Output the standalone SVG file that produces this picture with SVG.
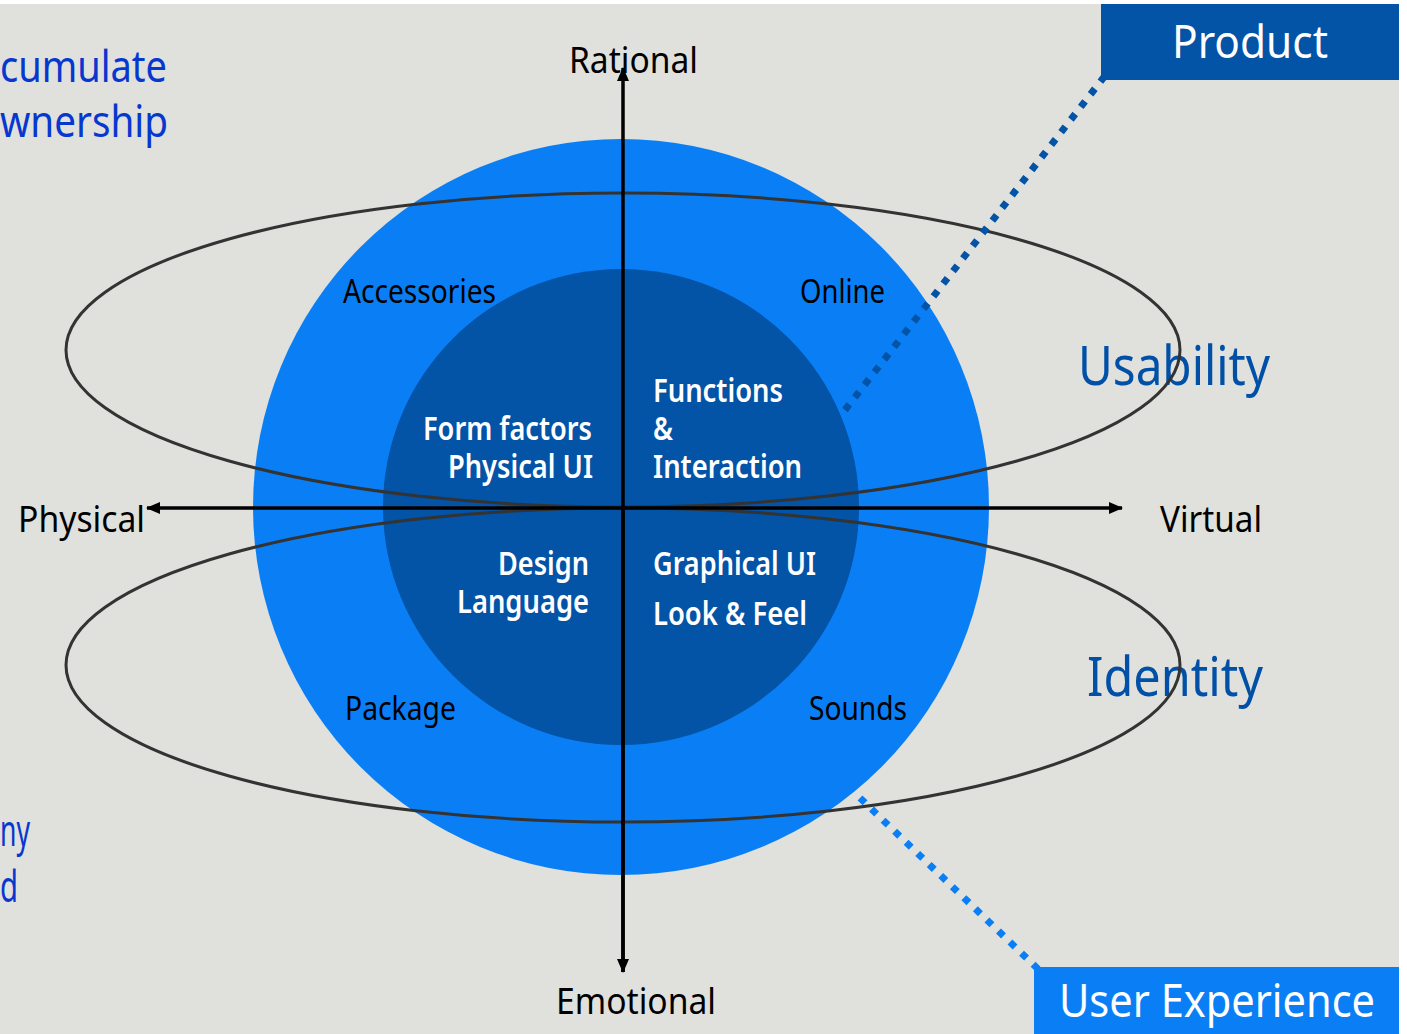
<svg xmlns="http://www.w3.org/2000/svg" width="1407" height="1034" viewBox="0 0 1407 1034">
<style>
text{font-family:"Noto Sans","Open Sans","Liberation Sans",sans-serif;}
.ax{font-size:37px;fill:#000;}
.side{font-size:44px;fill:#0637cf;}
.ring{font-size:32px;fill:#000;}
.core{font-size:32px;fill:#fff;font-weight:600;}
.big{font-size:55px;fill:#0050a8;}
.box{font-size:46px;fill:#fff;}
.ell{fill:none;stroke:#333;stroke-width:3;}
.axis{stroke:#000;stroke-width:3.5;fill:none;}
.dot{fill:none;stroke-width:7;stroke-dasharray:7 9;}
</style>
<defs>
<marker id="ah" viewBox="0 0 14 12" refX="13" refY="6" markerWidth="14" markerHeight="12" markerUnits="userSpaceOnUse" orient="auto">
<path d="M0,0 L14,6 L0,12 z" fill="#000"/>
</marker>
</defs>
<rect x="0" y="0" width="1407" height="1034" fill="#fff"/>
<rect x="0" y="4" width="1399" height="1030" fill="#e0e0dc"/>

<g id="side-text">
<text class="side" x="0" y="82" textLength="167" lengthAdjust="spacingAndGlyphs">cumulate</text>
<text class="side" x="0" y="137" textLength="168" lengthAdjust="spacingAndGlyphs">wnership</text>
<text class="side" x="0" y="846" textLength="30" lengthAdjust="spacingAndGlyphs">ny</text>
<text class="side" x="0" y="902" textLength="18" lengthAdjust="spacingAndGlyphs">d</text>
</g>

<g id="outer-circle"><circle cx="621" cy="507" r="368" fill="#0a7ff5"/></g>
<g id="inner-circle"><circle cx="621" cy="507" r="238" fill="#0353a6"/></g>

<g id="ring-labels">
<text class="ring" x="343" y="303" textLength="153" lengthAdjust="spacingAndGlyphs">Accessories</text>
<text class="ring" x="800" y="303" textLength="85" lengthAdjust="spacingAndGlyphs">Online</text>
<text class="ring" x="345" y="720" textLength="111" lengthAdjust="spacingAndGlyphs">Package</text>
<text class="ring" x="809" y="720" textLength="98" lengthAdjust="spacingAndGlyphs">Sounds</text>
</g>

<g id="core-labels">
<text class="core" x="423" y="440" textLength="169" lengthAdjust="spacingAndGlyphs">Form factors</text>
<text class="core" x="448" y="478" textLength="145" lengthAdjust="spacingAndGlyphs">Physical UI</text>
<text class="core" x="653" y="402" textLength="130" lengthAdjust="spacingAndGlyphs">Functions</text>
<text class="core" x="653" y="440" textLength="20" lengthAdjust="spacingAndGlyphs">&amp;</text>
<text class="core" x="653" y="478" textLength="149" lengthAdjust="spacingAndGlyphs">Interaction</text>
<text class="core" x="498" y="575" textLength="91" lengthAdjust="spacingAndGlyphs">Design</text>
<text class="core" x="457" y="613" textLength="132" lengthAdjust="spacingAndGlyphs">Language</text>
<text class="core" x="653" y="575" textLength="163" lengthAdjust="spacingAndGlyphs">Graphical UI</text>
<text class="core" x="653" y="625" textLength="154" lengthAdjust="spacingAndGlyphs">Look &amp; Feel</text>
</g>

<g id="usability"><text class="big" x="1078" y="385" textLength="192" lengthAdjust="spacingAndGlyphs">Usability</text></g>
<g id="identity"><text class="big" x="1087" y="696" textLength="176" lengthAdjust="spacingAndGlyphs">Identity</text></g>

<g id="product">
<rect x="1101" y="4" width="298" height="76" fill="#0353a6"/>
<text class="box" x="1172" y="58" textLength="156" lengthAdjust="spacingAndGlyphs">Product</text>
</g>
<g id="user-experience">
<rect x="1034" y="967" width="365" height="67" fill="#0a7ff5"/>
<text class="box" x="1059" y="1017" textLength="316" lengthAdjust="spacingAndGlyphs">User Experience</text>
</g>

<g id="connectors">
<ellipse class="ell" cx="623" cy="350" rx="557" ry="157"/>
<ellipse class="ell" cx="623" cy="665" rx="557" ry="157"/>
<line class="dot" x1="845" y1="410" x2="1104" y2="77" stroke="#0353a6"/>
<line class="dot" x1="860" y1="798" x2="1038" y2="969" stroke="#0a7ff5"/>
<line class="axis" x1="623" y1="972" x2="623" y2="68" marker-end="url(#ah)"/>
<line class="axis" x1="623" y1="507" x2="623" y2="972" marker-end="url(#ah)"/>
<line class="axis" x1="623" y1="508" x2="147" y2="508" marker-end="url(#ah)"/>
<line class="axis" x1="623" y1="508" x2="1122" y2="508" marker-end="url(#ah)"/>
</g>

<g id="axis-labels">
<text class="ax" x="569" y="73" textLength="129" lengthAdjust="spacingAndGlyphs">Rational</text>
<text class="ax" x="556" y="1014" textLength="160" lengthAdjust="spacingAndGlyphs">Emotional</text>
<text class="ax" x="18" y="532" textLength="127" lengthAdjust="spacingAndGlyphs">Physical</text>
<text class="ax" x="1160" y="532" textLength="102" lengthAdjust="spacingAndGlyphs">Virtual</text>
</g>
</svg>
